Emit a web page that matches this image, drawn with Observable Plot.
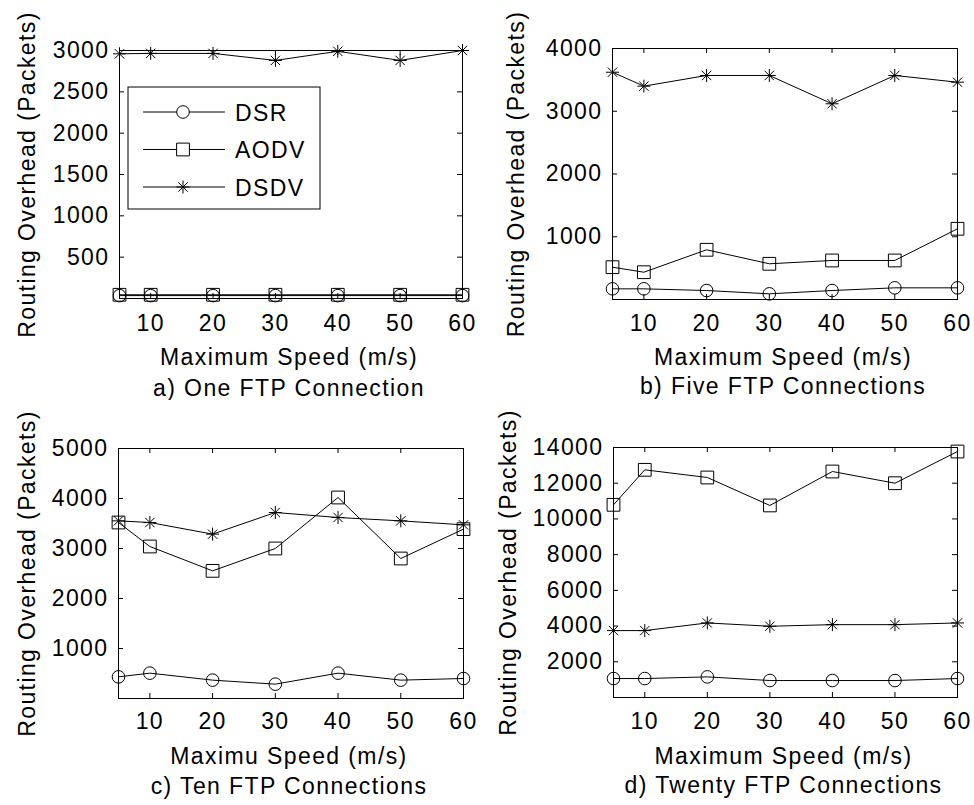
<!DOCTYPE html>
<html><head><meta charset="utf-8">
<script src="https://cdn.jsdelivr.net/npm/d3@7"></script>
<script src="https://cdn.jsdelivr.net/npm/@observablehq/plot@0.6"></script>
<style>
html,body{margin:0;padding:0;background:#fff;}
#root{position:relative;width:974px;height:805px;background:#fff;overflow:hidden;}
.panel{position:absolute;}
</style></head><body><div id="root"></div>
<script>
// ---------- data ----------
const speeds = [5, 10, 20, 30, 40, 50, 60];
const xTicks = [10, 20, 30, 40, 50, 60];
const protocols = ["DSR", "AODV", "DSDV"];

// a) One FTP Connection
const dsrA  = [35, 35, 35, 35, 35, 35, 35];
const aodvA = [45, 45, 45, 45, 45, 45, 45];
const dsdvA = [2960, 2965, 2965, 2880, 2990, 2880, 3000];
const yTicksA = [500, 1000, 1500, 2000, 2500, 3000];

// b) Five FTP Connections
const dsrB  = [170, 170, 143, 90, 143, 186, 186];
const aodvB = [515, 435, 792, 569, 622, 622, 1127];
const dsdvB = [3622, 3400, 3570, 3570, 3119, 3570, 3463];
const yTicksB = [1000, 2000, 3000, 4000];

// c) Ten FTP Connections
const dsrC  = [433, 507, 367, 287, 507, 367, 400];
const aodvC = [3520, 3040, 2553, 3000, 4020, 2800, 3387];
const dsdvC = [3553, 3520, 3287, 3720, 3620, 3553, 3473];
const yTicksC = [1000, 2000, 3000, 4000, 5000];

// d) Twenty FTP Connections
const dsrD  = [1062, 1062, 1155, 950, 950, 950, 1062];
const aodvD = [10790, 12750, 12320, 10755, 12656, 12000, 13775];
const dsdvD = [3747, 3747, 4175, 3990, 4080, 4080, 4175];
const yTicksD = [2000, 4000, 6000, 8000, 10000, 12000, 14000];

const yLabel = "Routing Overhead (Packets)";
const xLabels = ["Maximum Speed (m/s)", "Maximum Speed (m/s)", "Maximu Speed (m/s)", "Maximum Speed (m/s)"];
const captions = ["a) One FTP Connection", "b) Five FTP Connections", "c) Ten FTP Connections", "d) Twenty FTP Connections"];

// ---------- layout ----------
const FS = 23;
const panels = [
  {left: 0,   top: 0,   w: 487, h: 400, ml: 119, mr: 25, mt: 50, mb: 102, dom: [0, 3000],  ticks: yTicksA, s: [dsrA, aodvA, dsdvA], yl: 34,  xl: 364, cap: 395, tp: 16},
  {left: 487, top: 0,   w: 487, h: 400, ml: 125, mr: 17, mt: 48, mb: 101, dom: [0, 4000],  ticks: yTicksB, s: [dsrB, aodvB, dsdvB], yl: 36,  xl: 364, cap: 393, tp: 15},
  {left: 0,   top: 400, w: 487, h: 405, ml: 118, mr: 24, mt: 48, mb: 107, dom: [0, 5000],  ticks: yTicksC, s: [dsrC, aodvC, dsdvC], yl: 34,  xl: 363, cap: 393, tp: 14},
  {left: 487, top: 400, w: 487, h: 405, ml: 126, mr: 17, mt: 47, mb: 108, dom: [0, 14000], ticks: yTicksD, s: [dsrD, aodvD, dsdvD], yl: 28,  xl: 363, cap: 392, tp: 15}
];

const starSymbol = {
  draw(ctx, size) {
    const r = Math.sqrt(size / Math.PI), d = r * 0.72;
    ctx.moveTo(-r, 0); ctx.lineTo(r, 0);
    ctx.moveTo(0, -r); ctx.lineTo(0, r);
    ctx.moveTo(-d, -d); ctx.lineTo(d, d);
    ctx.moveTo(-d, d); ctx.lineTo(d, -d);
  }
};
const markerOf = {DSR: {symbol: "circle", r: 6.3}, AODV: {symbol: "square", r: 7.2}, DSDV: {symbol: starSymbol, r: 6.5}};
const fmt = d => String(d);

const root = document.getElementById("root");

panels.forEach((p, k) => {
  const rows = [];
  protocols.forEach((name, j) => speeds.forEach((sp, i) => rows.push({protocol: name, speed: sp, value: p.s[j][i]})));
  const fw = p.w - p.ml - p.mr, fh = p.h - p.mt - p.mb;
  const frameBottom = p.h - p.mb;
  const marks = [
    Plot.frame({stroke: "black", strokeWidth: 1}),
    Plot.ruleX(xTicks, {x: d => d, insetTop: fh - 5, stroke: "black"}),
    Plot.ruleX(xTicks, {x: d => d, insetBottom: fh - 5, stroke: "black"}),
    Plot.ruleY(p.ticks, {y: d => d, insetRight: fw - 5, stroke: "black"}),
    Plot.ruleY(p.ticks, {y: d => d, insetLeft: fw - 5, stroke: "black"}),
    Plot.axisX(xTicks, {anchor: "bottom", tickSize: 0, tickPadding: p.tp, label: null, fill: "black", tickFormat: fmt}),
    Plot.axisY(p.ticks, {anchor: "left", tickSize: 0, tickPadding: 10, label: null, fill: "black", tickFormat: fmt}),
    Plot.line(rows, {x: "speed", y: "value", z: "protocol", stroke: "black", strokeWidth: 1}),
    ...protocols.map(name => Plot.dot(rows.filter(d => d.protocol === name), {
      x: "speed", y: "value", symbol: markerOf[name].symbol, r: markerOf[name].r,
      stroke: "black", fill: "none", strokeWidth: 1
    })),
    Plot.text([yLabel], {text: d => d, frameAnchor: "left", textAnchor: "middle", rotate: -90, lineAnchor: "middle",
      dx: (p.yl - 0.32 * FS) - p.ml, fill: "black"}),
    Plot.text([xLabels[k]], {text: d => d, frameAnchor: "bottom", textAnchor: "middle", lineAnchor: "middle",
      dy: (p.xl - 0.32 * FS) - frameBottom, dx: -2, fill: "black"}),
    Plot.text([captions[k]], {text: d => d, frameAnchor: "bottom", textAnchor: "middle", lineAnchor: "middle",
      dy: (p.cap - 0.32 * FS) - frameBottom, dx: -2, fill: "black"})
  ];
  const svg = Plot.plot({
    width: p.w, height: p.h,
    marginLeft: p.ml, marginRight: p.mr, marginTop: p.mt, marginBottom: p.mb,
    x: {domain: [5, 60], label: null},
    y: {domain: p.dom, label: null},
    style: {fontFamily: "'Liberation Sans', Arial, sans-serif", fontSize: FS + "px", letterSpacing: "1.4px",
            background: "white", color: "black", overflow: "visible"},
    marks
  });
  if (k === 0) {
    const g = d3.select(svg).append("g").attr("class", "legend");
    g.append("rect").attr("x", 128).attr("y", 87).attr("width", 192).attr("height", 122)
      .attr("fill", "white").attr("stroke", "black");
    protocols.forEach((name, j) => {
      const cy = 112 + j * 37.5;
      g.append("line").attr("x1", 143).attr("x2", 225).attr("y1", cy).attr("y2", cy).attr("stroke", "black");
      const m = markerOf[name];
      const sym = typeof m.symbol === "string" ? (m.symbol === "circle" ? d3.symbolCircle : d3.symbolSquare) : m.symbol;
      g.append("path").attr("transform", `translate(183,${cy})`)
        .attr("d", d3.symbol(sym, Math.PI * m.r * m.r)())
        .attr("fill", "white").attr("stroke", "black");
      g.append("text").attr("x", 235).attr("y", cy + 8.5).attr("text-anchor", "start").attr("fill", "black").text(name);
    });
  }
  const div = document.createElement("div");
  div.className = "panel";
  div.style.left = p.left + "px"; div.style.top = p.top + "px";
  div.style.width = p.w + "px"; div.style.height = p.h + "px";
  div.appendChild(svg);
  root.appendChild(div);
});
</script>
</body></html>
